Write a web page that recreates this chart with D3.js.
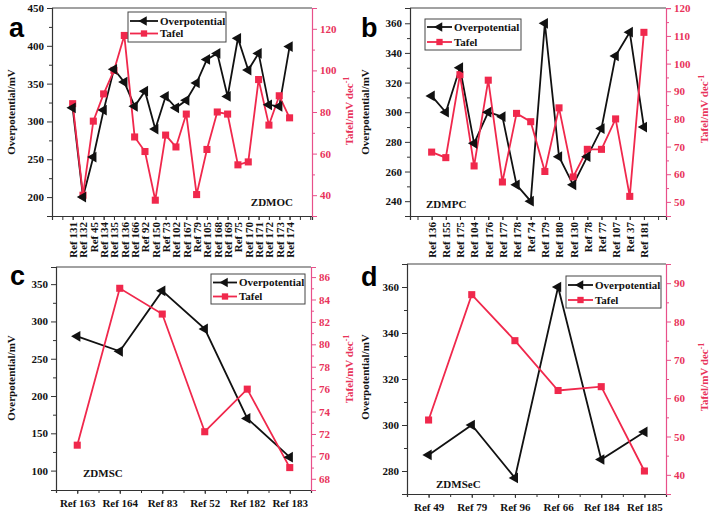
<!DOCTYPE html>
<html><head><meta charset="utf-8">
<script src="https://cdn.jsdelivr.net/npm/d3@7"></script>
<style>body{margin:0;background:#fff}svg{display:block}</style>
</head><body><svg id="c" width="713" height="515"></svg>
<script>
// ---------- DATA ----------
const aCats = ["Ref 131","Ref 132","Ref 45","Ref 134","Ref 135","Ref 136","Ref 166","Ref 92","Ref 150","Ref 73","Ref 102","Ref 167","Ref 79","Ref 105","Ref 168","Ref 169","Ref 75","Ref 170","Ref 171","Ref 172","Ref 173","Ref 174"];
const aOver = [318,200,253,315,369,352,320,340,290,333,318,328,351,382,390,333,410,368,390,322,320,399];
const aTafel = [84,40,75.6,88.7,100,116.8,68,61,37.6,68.9,63.2,79,40.3,62,80,79,54.6,56,95.6,73.7,87.8,77.2];

const bCats = ["Ref 136","Ref 155","Ref 175","Ref 104","Ref 176","Ref 177","Ref 178","Ref 74","Ref 179","Ref 180","Ref 130","Ref 78","Ref 77","Ref 107","Ref 37","Ref 181"];
const bOver = [311,300,330,279,300,297,251,240,360,270,251,270,289,338,354,290];
const bTafel = [68,66,96,63,94,57.2,82,79,61,84,59,69,69,80,52,111.3];

const cCats = ["Ref 163","Ref 164","Ref 83","Ref 52","Ref 182","Ref 183"];
const cOver = [280,260,341,290,170,118];
const cTafel = [71,85,82.7,72.2,76,69];

const dCats = ["Ref 49","Ref 79","Ref 96","Ref 66","Ref 184","Ref 185"];
const dOver = [287,300,277,360,285,297];
const dTafel = [54.3,87,75,62,63,41];

const aLeftTicks = [200,250,300,350,400,450], aRightTicks = [40,60,80,100,120];
const bLeftTicks = [240,260,280,300,320,340,360], bRightTicks = [50,60,70,80,90,100,110,120];
const cLeftTicks = [100,150,200,250,300,350], cRightTicks = [68,70,72,74,76,78,80,82,84,86];
const dLeftTicks = [280,300,320,340,360], dRightTicks = [40,50,60,70,80,90];

const seriesNames = ["Overpotential","Tafel"];
const leftTitle = "Overpotential/mV";
const rightTitle = "Tafel/mV dec";

// ---------- STYLE ----------
const RED = "#f0284c", PINK = "#e8508a", RTXT = "#e8335a";
const SERIF = "'Liberation Serif','Times New Roman',serif";
const FS = 11;
const svg = d3.select("#c");

function panel(p) {
  const g = svg.append("g");
  const n = p.cats.length;
  const x = d3.scaleLinear().domain(p.xd).range([p.L, p.R]);
  const yl = d3.scaleLinear().domain(p.yld).range([p.B, p.T]);
  const yr = d3.scaleLinear().domain(p.yrd).range([p.B, p.T]);

  // top border
  g.append("line").attr("x1",p.L).attr("x2",p.R).attr("y1",p.T).attr("y2",p.T)
    .attr("stroke","#444").attr("stroke-width",1.1);

  // x axis
  const idx = d3.range(n);
  const xa = g.append("g").attr("transform",`translate(0,${p.B})`)
    .call(d3.axisBottom(x).tickValues(p.xTicks).tickSize(p.xMinorHalf?3:4).tickFormat(""));
  xa.select(".domain").attr("stroke","#333").attr("stroke-width",1.2);
  xa.selectAll(".tick line").attr("stroke","#333");
  const xm = g.append("g").attr("transform",`translate(0,${p.B})`)
    .call(d3.axisBottom(x).tickValues(idx).tickSize(4).tickFormat((d)=>p.cats[d]));
  xm.select(".domain").remove();
  xm.selectAll(".tick line").attr("stroke","#333");
  xm.selectAll(".tick text").attr("font-family",SERIF).attr("font-weight","bold")
    .attr("font-size",FS).attr("fill","#111");
  if (p.rotate) {
    xm.selectAll(".tick text").attr("transform","rotate(-90)")
      .attr("text-anchor","end").attr("x",-6).attr("y",0).attr("dy","0.35em");
  } else {
    xm.selectAll(".tick text").attr("y",9);
  }

  // left axis
  const la = g.append("g").attr("transform",`translate(${p.L},0)`)
    .call(d3.axisLeft(yl).tickValues(p.lt).tickSize(5).tickPadding(3));
  la.select(".domain").attr("stroke","#333").attr("stroke-width",1.2);
  la.selectAll(".tick line").attr("stroke","#333");
  la.selectAll(".tick text").attr("font-family",SERIF).attr("font-weight","bold")
    .attr("font-size",FS).attr("fill","#111");
  const lMinor = p.lt.slice(0,-1).map((v,i)=>(v+p.lt[i+1])/2);
  const lm = g.append("g").attr("transform",`translate(${p.L},0)`)
    .call(d3.axisLeft(yl).tickValues(lMinor).tickSize(3).tickFormat(""));
  lm.select(".domain").remove(); lm.selectAll(".tick line").attr("stroke","#333");

  // right axis
  const ra = g.append("g").attr("transform",`translate(${p.R},0)`)
    .call(d3.axisRight(yr).tickValues(p.rt).tickSize(5).tickPadding(3));
  ra.select(".domain").attr("stroke",PINK).attr("stroke-width",1.2);
  ra.selectAll(".tick line").attr("stroke",PINK);
  ra.selectAll(".tick text").attr("font-family",SERIF).attr("font-weight","bold")
    .attr("font-size",FS).attr("fill",RTXT);
  const rMinor = p.rt.slice(0,-1).map((v,i)=>(v+p.rt[i+1])/2);
  const rm = g.append("g").attr("transform",`translate(${p.R},0)`)
    .call(d3.axisRight(yr).tickValues(rMinor).tickSize(3).tickFormat(""));
  rm.select(".domain").remove(); rm.selectAll(".tick line").attr("stroke",PINK);

  // titles
  g.append("text").attr("transform",`translate(${p.ltx},${p.lty}) rotate(-90)`)
    .attr("text-anchor","middle").attr("dy","0.35em")
    .attr("font-family",SERIF).attr("font-weight","bold").attr("font-size",FS)
    .attr("fill","#111").text(leftTitle);
  const rtT = g.append("text").attr("transform",`translate(${p.rtx},${p.rty}) rotate(-90)`)
    .attr("text-anchor","middle").attr("dy","0.35em")
    .attr("font-family",SERIF).attr("font-weight","bold").attr("font-size",FS)
    .attr("fill",RTXT);
  rtT.append("tspan").text(rightTitle);
  rtT.append("tspan").attr("dy","-0.45em").attr("font-size",8).text("-1");

  // lines
  const lineL = d3.line().x((d,i)=>x(i)).y(d=>yl(d));
  const lineR = d3.line().x((d,i)=>x(i)).y(d=>yr(d));
  g.append("path").datum(p.over).attr("d",lineL).attr("fill","none")
    .attr("stroke","#111").attr("stroke-width",1.8);
  g.append("path").datum(p.tafel).attr("d",lineR).attr("fill","none")
    .attr("stroke",RED).attr("stroke-width",1.8);
  const tri = d3.symbol().type(d3.symbolTriangle).size(50);
  const sq = d3.symbol().type(d3.symbolSquare).size(50);
  g.selectAll(".sq").data(p.tafel).enter().append("path")
    .attr("d",sq).attr("fill",RED)
    .attr("transform",(d,i)=>`translate(${x(i)},${yr(d)})`);
  g.selectAll(".tri").data(p.over).enter().append("path")
    .attr("d",tri).attr("fill","#111")
    .attr("transform",(d,i)=>`translate(${x(i)},${yl(d)}) rotate(-90)`);

  // legend
  const lg = p.leg;
  g.append("rect").attr("x",lg.x).attr("y",lg.y).attr("width",lg.w).attr("height",lg.h)
    .attr("fill","#fff").attr("stroke","#444").attr("stroke-width",1);
  const tri2 = d3.symbol().type(d3.symbolTriangle).size(40);
  const sq2 = d3.symbol().type(d3.symbolSquare).size(40);
  [[0,"#111",tri2,-90],[1,RED,sq2,0]].forEach(([k,col,sym,rot])=>{
    const yy = lg.y + lg.r0 + k*lg.dr;
    g.append("line").attr("x1",lg.x+2).attr("x2",lg.x+lg.tx-2).attr("y1",yy).attr("y2",yy)
      .attr("stroke",col).attr("stroke-width",1.8);
    g.append("path").attr("d",sym).attr("fill",col)
      .attr("transform",`translate(${lg.x+lg.tx/2},${yy}) rotate(${rot})`);
    g.append("text").attr("x",lg.x+lg.tx).attr("y",yy).attr("dy","0.35em")
      .attr("font-family",SERIF).attr("font-weight","bold").attr("font-size",FS)
      .attr("fill","#111").text(seriesNames[k]);
  });

  // sample label
  g.append("text").attr("x",p.sx).attr("y",p.sy).attr("text-anchor",p.sa)
    .attr("font-family",SERIF).attr("font-weight","bold").attr("font-size",FS)
    .attr("fill","#111").text(p.sample);
  // panel letter
  g.append("text").attr("x",p.lx).attr("y",p.ly)
    .attr("font-family","'Liberation Sans',Arial,sans-serif").attr("font-weight","bold")
    .attr("font-size",27).attr("fill","#000").text(p.letter);
}

panel({cats:aCats, over:aOver, tafel:aTafel, L:52, R:312, T:8, B:216,
  xd:[-2,23.17], xTicks:d3.range(-2,24), rotate:true,
  yld:[175,450], yrd:[30,130], lt:aLeftTicks, rt:aRightTicks,
  ltx:11, lty:112, rtx:349, rty:111,
  leg:{x:128,y:12,w:98,h:30,r0:9,dr:12.5,tx:32},
  sample:"ZDMOC", sx:293, sy:206, sa:"end", letter:"a", lx:9, ly:37});

panel({cats:bCats, over:bOver, tafel:bTafel, L:410, R:666, T:8, B:216,
  xd:[-1.53,16.56], xTicks:d3.range(-1,17), rotate:true,
  yld:[230,370.3], yrd:[44.9,120.1], lt:bLeftTicks, rt:bRightTicks,
  ltx:365, lty:112, rtx:704, rty:109,
  leg:{x:425,y:19,w:96,h:31,r0:8,dr:15,tx:29},
  sample:"ZDMPC", sx:426, sy:208, sa:"start", letter:"b", lx:361, ly:37});

panel({cats:cCats, over:cOver, tafel:cTafel, L:56, R:311, T:267, B:490,
  xd:[-0.5,5.5], xTicks:d3.range(-0.5,5.6,0.5), rotate:false, xMinorHalf:true,
  yld:[74,373], yrd:[67,86.9], lt:cLeftTicks, rt:cRightTicks,
  ltx:11, lty:378, rtx:349, rty:369,
  leg:{x:211,y:274,w:94,h:30,r0:8.5,dr:14,tx:28},
  sample:"ZDMSC", sx:83, sy:477, sa:"start", letter:"c", lx:10, ly:285});

panel({cats:dCats, over:dOver, tafel:dTafel, L:407, R:666, T:264, B:494,
  xd:[-0.5,5.5], xTicks:d3.range(-0.5,5.6,0.5), rotate:false, xMinorHalf:true,
  yld:[270,370], yrd:[35,95], lt:dLeftTicks, rt:dRightTicks,
  ltx:365, lty:377, rtx:704, rty:377,
  leg:{x:566,y:276,w:95,h:32,r0:9,dr:15,tx:29},
  sample:"ZDMSeC", sx:436, sy:488, sa:"start", letter:"d", lx:361, ly:286});
</script></body></html>
